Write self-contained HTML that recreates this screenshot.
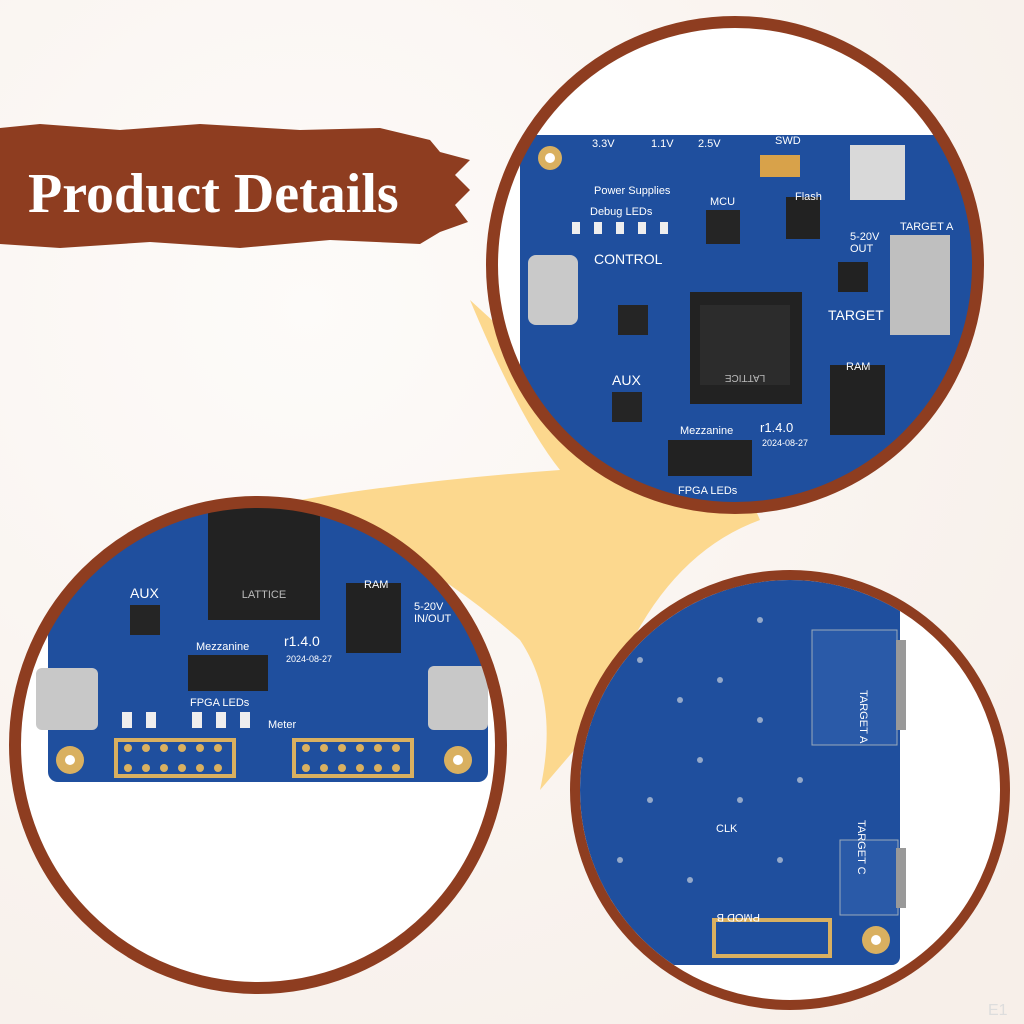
<!DOCTYPE html>
<html><head><meta charset="utf-8"><style>
html,body{margin:0;padding:0;width:1024px;height:1024px;overflow:hidden;background:#fbf7f3}
svg{display:block}
</style></head><body>
<svg width="1024" height="1024" viewBox="0 0 1024 1024" xmlns="http://www.w3.org/2000/svg">
<defs>
<radialGradient id="bg" cx="0.3" cy="0.3" r="0.9"><stop offset="0" stop-color="#fdfbf9"/><stop offset="1" stop-color="#f7efe9"/></radialGradient>
<clipPath id="c1"><circle cx="735" cy="265" r="238"/></clipPath>
<clipPath id="c2"><circle cx="258" cy="745" r="238"/></clipPath>
<clipPath id="c3"><circle cx="790" cy="790" r="210"/></clipPath>
</defs>
<rect width="1024" height="1024" fill="url(#bg)"/>
<!-- yellow blob -->
<path d="M470 300 Q520 420 560 470 Q420 480 300 500 Q430 560 520 640 Q560 700 540 790 L600 720 Q650 560 760 520 Q740 470 700 480 Q600 420 470 300 Z" fill="#fcd88e"/>
<!-- banner -->
<path d="M0 128 L40 124 L120 130 L200 124 L300 130 L380 128 L430 140 L440 152 L470 160 L455 175 L470 190 L455 205 L468 222 L440 232 L420 244 L330 240 L240 248 L150 242 L60 248 L0 244 Z" fill="#8e3d20"/>
<text x="28" y="212" font-family="Liberation Serif, serif" font-weight="bold" font-size="56" fill="#fff">Product Details</text>

<!-- circle 1 -->
<g clip-path="url(#c1)">
<rect x="490" y="20" width="500" height="500" fill="#fff"/>
<rect x="520" y="135" width="470" height="390" rx="14" fill="#1f4f9e"/>
<rect x="690" y="292" width="112" height="112" fill="#222"/>
<rect x="700" y="305" width="90" height="80" fill="#2c2c2c"/>
<text x="745" y="385" font-family="Liberation Sans,sans-serif" font-size="10" fill="#bbb" text-anchor="middle" transform="rotate(180 745 380)">LATTICE</text>
<rect x="528" y="255" width="50" height="70" rx="8" fill="#c9c9c9"/>
<rect x="890" y="235" width="60" height="100" fill="#bfbfbf"/>
<rect x="786" y="197" width="34" height="42" fill="#222"/>
<rect x="706" y="210" width="34" height="34" fill="#252525"/>
<rect x="618" y="305" width="30" height="30" fill="#252525"/>
<rect x="612" y="392" width="30" height="30" fill="#252525"/>
<rect x="830" y="365" width="55" height="70" fill="#222"/>
<rect x="838" y="262" width="30" height="30" fill="#222"/>
<rect x="668" y="440" width="84" height="36" fill="#222"/>
<rect x="760" y="155" width="40" height="22" fill="#d8a24a"/>
<rect x="850" y="145" width="55" height="55" fill="#d9d9d9"/>
<circle cx="550" cy="158" r="12" fill="#d9b060"/><circle cx="550" cy="158" r="5" fill="#fff"/>
<g fill="#eee"><rect x="572" y="222" width="8" height="12"/><rect x="594" y="222" width="8" height="12"/><rect x="616" y="222" width="8" height="12"/><rect x="638" y="222" width="8" height="12"/><rect x="660" y="222" width="8" height="12"/></g>
<g font-family="Liberation Sans,sans-serif" font-size="11" fill="#fff">
<text x="592" y="147">3.3V</text><text x="651" y="147">1.1V</text><text x="698" y="147">2.5V</text><text x="775" y="144">SWD</text>
<text x="594" y="194">Power Supplies</text><text x="590" y="215">Debug LEDs</text><text x="710" y="205">MCU</text><text x="795" y="200">Flash</text>
<text x="594" y="264" font-size="14">CONTROL</text><text x="828" y="320" font-size="14">TARGET</text><text x="612" y="385" font-size="14">AUX</text>
<text x="680" y="434">Mezzanine</text><text x="760" y="432" font-size="13">r1.4.0</text><text x="762" y="446" font-size="9">2024-08-27</text>
<text x="678" y="494">FPGA LEDs</text><text x="850" y="240">5-20V</text><text x="850" y="252">OUT</text><text x="846" y="370">RAM</text><text x="900" y="230">TARGET A</text>
</g>
</g>
<circle cx="735" cy="265" r="243" fill="none" stroke="#8e3d20" stroke-width="12"/>

<!-- circle 2 -->
<g clip-path="url(#c2)">
<rect x="15" y="500" width="495" height="500" fill="#fff"/>
<rect x="48" y="500" width="440" height="282" rx="10" fill="#1f4f9e"/>
<rect x="208" y="508" width="112" height="112" fill="#222"/>
<text x="264" y="598" font-family="Liberation Sans,sans-serif" font-size="11" fill="#bbb" text-anchor="middle">LATTICE</text>
<rect x="346" y="583" width="55" height="70" fill="#222"/>
<rect x="188" y="655" width="80" height="36" fill="#222"/>
<rect x="130" y="605" width="30" height="30" fill="#252525"/>
<rect x="36" y="668" width="62" height="62" rx="6" fill="#c8c8c8"/>
<rect x="428" y="666" width="60" height="64" rx="6" fill="#c8c8c8"/>
<rect x="114" y="738" width="122" height="40" fill="#d9b060"/><rect x="118" y="742" width="114" height="32" fill="#1f4f9e"/>
<rect x="292" y="738" width="122" height="40" fill="#d9b060"/><rect x="296" y="742" width="114" height="32" fill="#1f4f9e"/>
<g fill="#d9b060"><circle cx="128" cy="748" r="4"/><circle cx="146" cy="748" r="4"/><circle cx="164" cy="748" r="4"/><circle cx="182" cy="748" r="4"/><circle cx="200" cy="748" r="4"/><circle cx="218" cy="748" r="4"/>
<circle cx="128" cy="768" r="4"/><circle cx="146" cy="768" r="4"/><circle cx="164" cy="768" r="4"/><circle cx="182" cy="768" r="4"/><circle cx="200" cy="768" r="4"/><circle cx="218" cy="768" r="4"/>
<circle cx="306" cy="748" r="4"/><circle cx="324" cy="748" r="4"/><circle cx="342" cy="748" r="4"/><circle cx="360" cy="748" r="4"/><circle cx="378" cy="748" r="4"/><circle cx="396" cy="748" r="4"/>
<circle cx="306" cy="768" r="4"/><circle cx="324" cy="768" r="4"/><circle cx="342" cy="768" r="4"/><circle cx="360" cy="768" r="4"/><circle cx="378" cy="768" r="4"/><circle cx="396" cy="768" r="4"/>
<circle cx="70" cy="760" r="14"/><circle cx="458" cy="760" r="14"/></g>
<circle cx="70" cy="760" r="5" fill="#fff"/><circle cx="458" cy="760" r="5" fill="#fff"/>
<g fill="#eee"><rect x="122" y="712" width="10" height="16"/><rect x="146" y="712" width="10" height="16"/><rect x="192" y="712" width="10" height="16"/><rect x="216" y="712" width="10" height="16"/><rect x="240" y="712" width="10" height="16"/></g>
<g font-family="Liberation Sans,sans-serif" font-size="11" fill="#fff">
<text x="130" y="598" font-size="14">AUX</text><text x="196" y="650">Mezzanine</text><text x="284" y="646" font-size="14">r1.4.0</text><text x="286" y="662" font-size="9">2024-08-27</text>
<text x="190" y="706">FPGA LEDs</text><text x="268" y="728">Meter</text><text x="364" y="588">RAM</text><text x="414" y="610">5-20V</text><text x="414" y="622">IN/OUT</text>
</g>
</g>
<circle cx="258" cy="745" r="243" fill="none" stroke="#8e3d20" stroke-width="12"/>

<!-- circle 3 -->
<g clip-path="url(#c3)">
<rect x="575" y="575" width="440" height="440" fill="#fff"/>
<rect x="575" y="575" width="325" height="390" rx="8" fill="#1f4f9e"/>
<rect x="812" y="630" width="85" height="115" fill="#2a5aa8" stroke="#9ab" stroke-width="1"/>
<rect x="840" y="840" width="58" height="75" fill="#2a5aa8" stroke="#9ab" stroke-width="1"/>
<rect x="896" y="640" width="10" height="90" fill="#999"/>
<rect x="896" y="848" width="10" height="60" fill="#999"/>
<rect x="712" y="918" width="120" height="40" fill="#d9b060"/><rect x="716" y="922" width="112" height="32" fill="#1f4f9e"/>
<circle cx="876" cy="940" r="14" fill="#d9b060"/><circle cx="876" cy="940" r="5" fill="#fff"/>
<g fill="#c8d0dc" opacity="0.7">
<circle cx="640" cy="660" r="3"/><circle cx="680" cy="700" r="3"/><circle cx="720" cy="680" r="3"/><circle cx="700" cy="760" r="3"/><circle cx="760" cy="720" r="3"/><circle cx="650" cy="800" r="3"/><circle cx="740" cy="800" r="3"/><circle cx="620" cy="860" r="3"/><circle cx="690" cy="880" r="3"/><circle cx="780" cy="860" r="3"/><circle cx="800" cy="780" r="3"/><circle cx="760" cy="620" r="3"/>
</g>
<g font-family="Liberation Sans,sans-serif" font-size="11" fill="#fff">
<text x="860" y="690" transform="rotate(90 860 690)">TARGET A</text><text x="858" y="820" transform="rotate(90 858 820)">TARGET C</text>
<text x="760" y="914" transform="rotate(180 760 914)">PMOD B</text><text x="716" y="832">CLK</text>
</g>
</g>
<circle cx="790" cy="790" r="215" fill="none" stroke="#8e3d20" stroke-width="10"/>
<text x="988" y="1015" font-family="Liberation Sans,sans-serif" font-size="16" fill="#ddd">E1</text>
</svg>
</body></html>
